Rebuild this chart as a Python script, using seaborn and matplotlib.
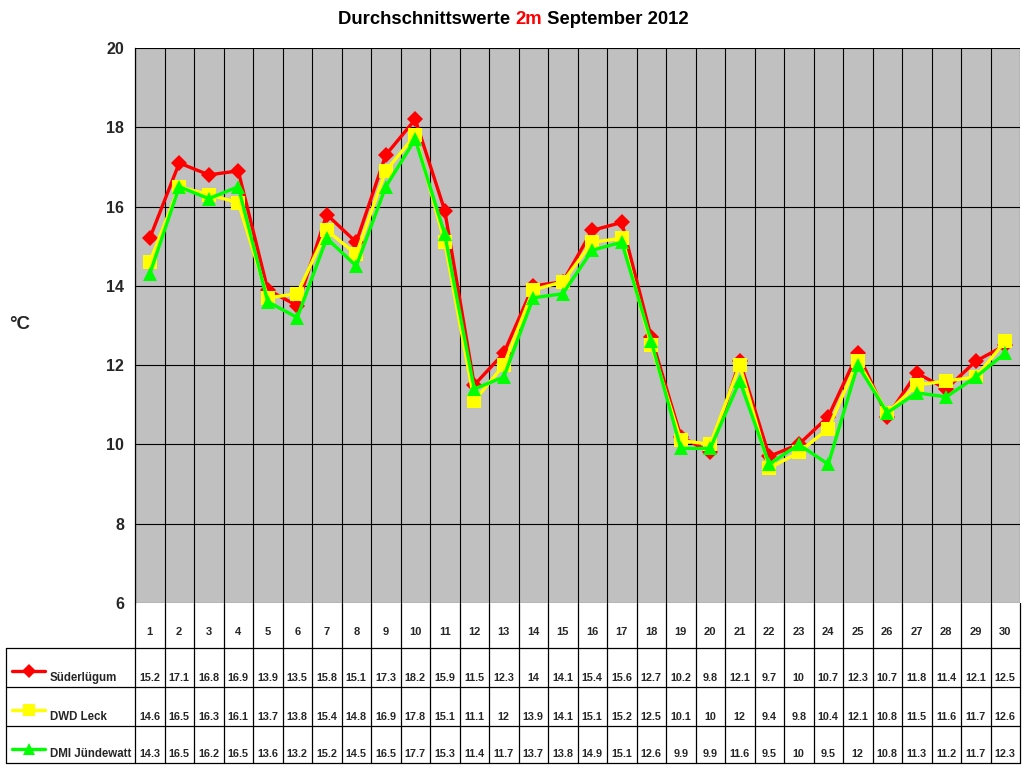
import numpy as np
import pandas as pd
import seaborn as sns
import matplotlib.pyplot as plt
from matplotlib.ticker import MultipleLocator

# Tageswerte September 2012 (2m Temperatur)
days = list(range(1, 31))
suederluegum = [15.2, 17.1, 16.8, 16.9, 13.9, 13.5, 15.8, 15.1, 17.3, 18.2,
                15.9, 11.5, 12.3, 14, 14.1, 15.4, 15.6, 12.7, 10.2, 9.8,
                12.1, 9.7, 10, 10.7, 12.3, 10.7, 11.8, 11.4, 12.1, 12.5]
dwd_leck = [14.6, 16.5, 16.3, 16.1, 13.7, 13.8, 15.4, 14.8, 16.9, 17.8,
            15.1, 11.1, 12, 13.9, 14.1, 15.1, 15.2, 12.5, 10.1, 10,
            12, 9.4, 9.8, 10.4, 12.1, 10.8, 11.5, 11.6, 11.7, 12.6]
dmi_juendewatt = [14.3, 16.5, 16.2, 16.5, 13.6, 13.2, 15.2, 14.5, 16.5, 17.7,
                  15.3, 11.4, 11.7, 13.7, 13.8, 14.9, 15.1, 12.6, 9.9, 9.9,
                  11.6, 9.5, 10, 9.5, 12, 10.8, 11.3, 11.2, 11.7, 12.3]

series_names = ['Süderlügum', 'DWD Leck', 'DMI Jündewatt']
series_values = [suederluegum, dwd_leck, dmi_juendewatt]
colors = ['#FF0000', '#FFFF00', '#00FF00']
markers = ['D', 's', '^']
msizes = [8, 9.5, 10]

rows = []
for name, vals in zip(series_names, series_values):
    for d, v in zip(days, vals):
        rows.append({'Tag': d, 'Wert': v, 'Station': name})
df = pd.DataFrame(rows)

sns.set_style('white')
plt.rcParams['font.family'] = ['Liberation Sans', 'DejaVu Sans']
plt.rcParams['font.weight'] = 'bold'

W, H = 1024, 768
fig = plt.figure(figsize=(W / 100, H / 100), dpi=100)

# Plotbereich in Pixeln
L, R, T, B = 135, 1020, 48, 603
ax = fig.add_axes([L / W, 1 - B / H, (R - L) / W, (B - T) / H])
ax.set_facecolor('#C0C0C0')

for name, col, mk, ms in zip(series_names, colors, markers, msizes):
    sns.lineplot(data=df[df['Station'] == name], x='Tag', y='Wert', ax=ax,
                 color=col, linewidth=2.4, marker=mk, markersize=ms,
                 markeredgecolor=col, markeredgewidth=0, legend=False)

ax.set_xlim(0.5, 30.5)
ax.set_ylim(6, 20)
ax.yaxis.set_major_locator(MultipleLocator(2))
ax.set_xticks(np.arange(0.5, 31, 1))
ax.set_xticklabels([])
ax.tick_params(axis='x', length=0)
ax.tick_params(axis='y', length=5, width=1, color='black', direction='out',
               labelsize=11.5, pad=3)
for lab in ax.get_yticklabels():
    lab.set_fontweight('bold')
ax.grid(True, color='black', linewidth=0.8)
ax.set_axisbelow(True)
for s in ['top', 'right', 'bottom']:
    ax.spines[s].set_visible(False)
ax.spines['left'].set_color('black')
ax.spines['left'].set_linewidth(0.9)
ax.set_xlabel('')
ax.set_ylabel('')

# Titel (mehrfarbig)
renderer = fig.canvas.get_renderer()
parts = [('Durchschnittswerte ', 'black'), ('2m', '#FF0000'), (' September 2012', 'black')]
x0 = 338
for txt, col in parts:
    tt = fig.text(x0 / W, 1 - 20 / H, txt, ha='left', va='center',
                  fontsize=13.3, fontweight='bold', color=col)
    bb = tt.get_window_extent(renderer=renderer)
    x0 += bb.width

fig.text(9 / W, 1 - 325 / H, '°C', ha='left', va='center', fontsize=13.5,
         fontweight='bold')

# Datentabelle unten
tb = fig.add_axes([0, 0, 1, 1])
tb.set_xlim(0, W)
tb.set_ylim(H, 0)
tb.axis('off')
tb.patch.set_visible(False)

cw = (R - L) / len(days)
row_edges = [648, 687, 726, 763]
lw = 0.9
for i in range(len(days) + 1):
    tb.plot([L + i * cw] * 2, [B, row_edges[-1]], color='black', lw=lw)
tb.plot([6, 6], [row_edges[0], row_edges[-1]], color='black', lw=lw)
for y in row_edges:
    tb.plot([6, R], [y, y], color='black', lw=lw)
for i, d in enumerate(days):
    tb.text(L + (i + 0.5) * cw, 632, str(d), ha='center', va='center',
            fontsize=8, fontweight='bold')

for r, (name, vals, col, mk, ms) in enumerate(zip(series_names, series_values,
                                                  colors, markers, msizes)):
    ytxt = row_edges[r + 1] - 9
    ymk = row_edges[r] + 23
    tb.plot([12, 45], [ymk, ymk], color=col, lw=2.4)
    tb.plot([28.5], [ymk], marker=mk, color=col, markersize=ms * 0.9, mew=0)
    tb.text(50, ytxt, name, ha='left', va='center', fontsize=8.3,
            fontweight='bold')
    for i, v in enumerate(vals):
        tb.text(L + (i + 0.5) * cw, ytxt, f'{v:g}', ha='center', va='center',
                fontsize=7.8, fontweight='bold')

fig.savefig('out.png', dpi=100)
